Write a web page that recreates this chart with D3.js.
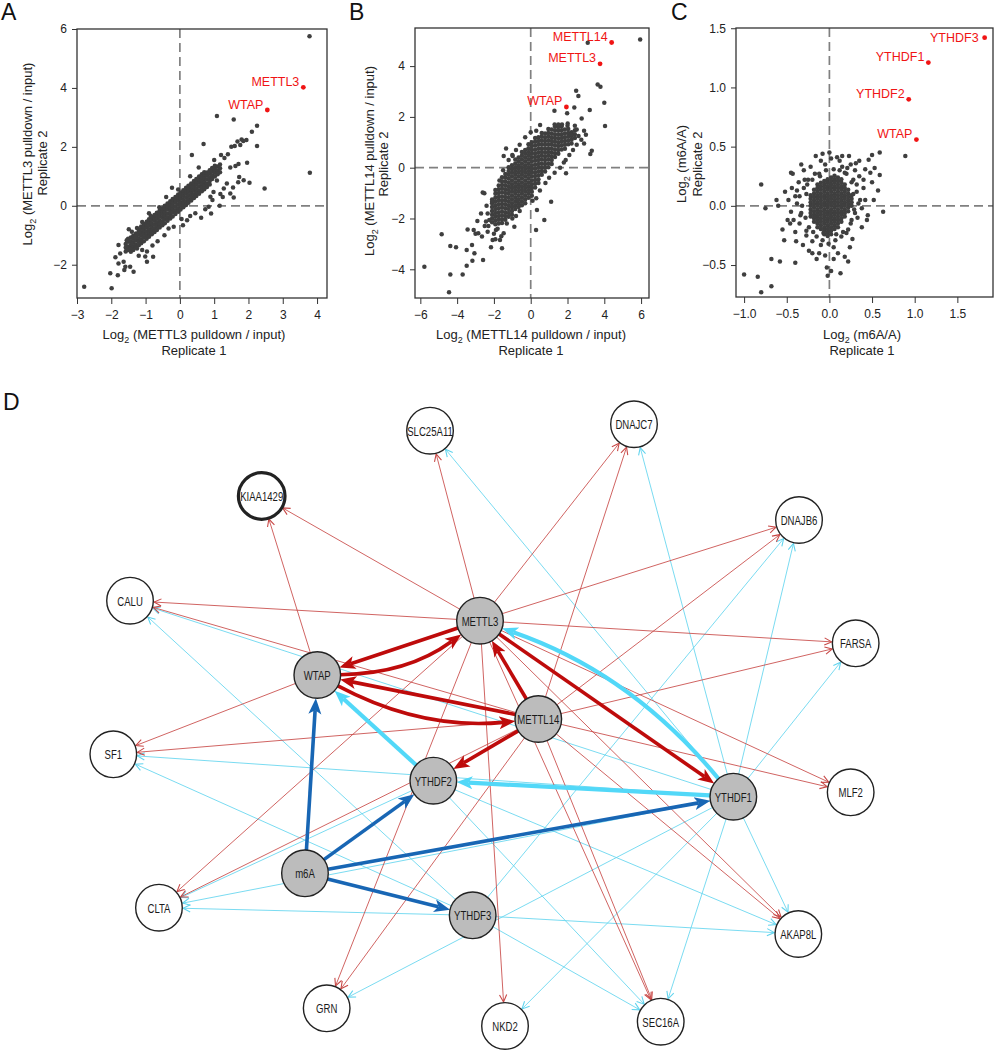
<!DOCTYPE html>
<html><head><meta charset="utf-8">
<script src="https://cdn.jsdelivr.net/npm/d3@7"></script>
<style>
body{margin:0;background:#fff}
svg{display:block}
text{font-family:"Liberation Sans",Arial,Helvetica,sans-serif}
</style></head>
<body><svg id="chart" width="994" height="1050"></svg>
<script>
// ---------------- DATA ----------------
// Panel A: METTL3 pulldown replicate 1 vs 2
const aTicksX = [-3,-2,-1,0,1,2,3,4];
const aTicksY = [-2,0,2,4,6];
const aHighlights = [{name:"METTL3",x:3.60,y:4.02},{name:"WTAP",x:2.55,y:3.25}];
const aOutliers = [
[3.78,5.75],[3.79,1.12],[1.08,3.05],[1.57,2.93],[2.25,2.72],[2.10,2.51],[2.25,2.03],[2.47,0.59],
[1.94,2.23],[1.85,2.20],[1.76,2.06],[1.68,2.18],[1.60,2.03],[1.50,2.00],[1.80,2.25],[0.69,2.10],[0.35,1.72],
[1.96,1.46],[1.71,1.42],[1.62,1.35],[1.47,1.30],[1.73,0.98],[1.86,0.87],[2.03,0.78],[1.57,0.28],[1.47,0.42],
[1.37,0.76],[1.28,0.59],[1.08,0.86],[1.18,0.40],[0.98,0.47],[0.89,0.31],[1.16,0.00],[0.91,-0.26],[0.62,-0.41],
[0.84,-0.03],[0.74,-0.12],[-0.23,0.61],[0.21,-0.49],[0.09,-0.66],[-0.33,-0.77],[-0.18,-0.71],
[-1.49,-0.80],[-1.40,-0.88],[-1.30,-1.05],[-1.55,-1.17],[-1.40,-1.28],[-1.25,-1.45],[-1.10,-1.50],[-0.96,-1.55],[-1.01,-1.72],
[-0.78,-1.73],[-0.96,-1.90],[-1.79,-1.33],[-1.74,-1.62],[-1.88,-1.75],[-1.79,-1.96],[-1.64,-1.90],[-1.59,-2.07],[-1.62,-2.18],
[-1.45,-2.07],[-1.35,-2.24],[-2.03,-2.29],[-1.81,-2.36],[-2.79,-2.75],[-1.99,-2.80],
[1.30,1.62],[1.40,1.75],[1.20,1.72],[1.00,1.55],[0.55,1.30],[0.30,1.00],[-0.05,0.55],[-0.40,0.30],[-0.60,-0.05],[-0.85,-0.35],
[0.45,-0.25],[0.30,-0.35],[0.05,-0.45],[-0.45,-1.00],[-0.65,-1.20],[-0.80,-1.35],[-1.20,-1.70],[-1.55,-1.50],
[-0.90,-0.25],[-1.10,-0.55],[-1.25,-0.75],[1.55,0.62],[1.70,0.80],[1.25,0.30],[0.95,0.20]
];
// dense core of panel A: [x, [y values]]
const aCore = [
[-1.58,[-1.42,-1.30,-1.55]],
[-1.51,[-1.38,-1.22,-1.50,-1.12]],
[-1.43,[-1.33,-1.20,-1.46,-1.08,-1.56]],
[-1.36,[-1.25,-1.12,-1.38,-1.02,-1.50]],
[-1.28,[-1.18,-1.05,-1.31,-0.94,-1.42]],
[-1.20,[-1.10,-0.97,-1.22,-0.86,-1.34]],
[-1.13,[-1.02,-0.90,-1.15,-0.78,-1.27,-0.70]],
[-1.05,[-0.95,-0.82,-1.07,-0.70,-1.20,-0.62]],
[-0.97,[-0.87,-0.74,-1.00,-0.63,-1.12,-0.54]],
[-0.90,[-0.80,-0.67,-0.92,-0.55,-1.05,-0.46]],
[-0.82,[-0.72,-0.59,-0.85,-0.47,-0.97,-0.38]],
[-0.74,[-0.64,-0.51,-0.77,-0.40,-0.89,-0.31]],
[-0.67,[-0.57,-0.44,-0.69,-0.32,-0.82,-0.24]],
[-0.59,[-0.49,-0.36,-0.62,-0.25,-0.74,-0.16]],
[-0.51,[-0.41,-0.28,-0.54,-0.17,-0.66,-0.08]],
[-0.44,[-0.34,-0.21,-0.46,-0.09,-0.59,0.00]],
[-0.36,[-0.26,-0.13,-0.39,-0.02,-0.51,0.08]],
[-0.28,[-0.18,-0.05,-0.31,0.06,-0.43,0.15]],
[-0.21,[-0.11,0.02,-0.23,0.13,-0.36,0.23]],
[-0.13,[-0.03,0.10,-0.16,0.21,-0.28,0.30]],
[-0.05,[0.05,0.18,-0.08,0.29,-0.20,0.38]],
[0.02,[0.12,0.25,0.00,0.36,-0.13,0.45]],
[0.10,[0.20,0.33,0.07,0.44,-0.05,0.53]],
[0.18,[0.28,0.41,0.15,0.52,0.03,0.61]],
[0.25,[0.35,0.48,0.22,0.59,0.10,0.68]],
[0.33,[0.43,0.56,0.30,0.67,0.18,0.76]],
[0.41,[0.51,0.64,0.38,0.75,0.26,0.84]],
[0.48,[0.58,0.71,0.45,0.82,0.33,0.91]],
[0.56,[0.66,0.79,0.53,0.90,0.41,0.99]],
[0.64,[0.74,0.87,0.61,0.98,0.49,1.07]],
[0.71,[0.81,0.94,0.68,1.05,0.56,1.14]],
[0.79,[0.89,1.02,0.76,1.13,0.64]],
[0.87,[0.97,1.10,0.84,1.21,0.72]],
[0.94,[1.04,1.17,0.91,1.28]],
[1.02,[1.12,1.25,0.99,1.36]],
[1.10,[1.20,1.33,1.07]],
[1.17,[1.27,1.40,1.14]]
];

// Panel B: METTL14 pulldown
const bTicksX = [-6,-4,-2,0,2,4,6];
const bTicksY = [-4,-2,0,2,4];
const bHighlights = [{name:"METTL14",x:4.40,y:4.93},{name:"METTL3",x:3.77,y:4.09},{name:"WTAP",x:1.94,y:2.39}];
const bOutliers = [
[5.95,5.05],[3.10,4.92],[3.64,3.28],[3.79,3.19],[2.47,3.03],[2.59,2.82],[4.00,2.56],[4.04,1.64],[3.21,2.27],
[2.37,2.37],[1.29,2.24],[1.98,2.14],[2.77,1.94],[2.01,1.74],[0.51,1.68],[3.32,0.67],[3.24,0.54],[1.92,-0.22],
[1.11,-1.34],[0.34,-1.67],[0.74,-2.06],[0.29,-2.45],[-0.89,-2.32],[-1.34,0.76],[-0.98,0.46],[-1.47,0.46],
[-2.10,-1.34],[-2.52,-1.01],[-2.61,-0.98],[-4.84,-2.62],[-4.37,-3.08],[-4.06,-3.13],[-3.43,-2.43],[-3.10,-2.45],
[-2.85,-2.58],[-2.65,-2.71],[-3.19,-3.04],[-3.48,-3.24],[-3.06,-3.37],[-2.59,-3.63],[-3.48,-3.86],[-3.17,-3.66],
[-3.70,-4.20],[-4.37,-4.20],[-5.78,-3.90],[-4.44,-4.90],[-2.16,-3.13],[-1.92,-2.82],[-1.56,-3.17],[-1.67,-2.85],
[-2.07,-2.85],[-2.34,-2.52],[-2.43,-2.12],[-2.25,-2.06],[-2.34,-1.80],[-1.89,-2.45],[-1.47,-2.58],[-0.71,-1.27],
[2.20,1.30],[2.50,1.50],[2.60,1.25],[2.75,1.10],[2.90,0.95],[2.50,0.90],[2.30,0.70],[2.10,0.50],[1.90,0.30],
[2.90,1.45],[3.00,1.30],[2.40,1.65],[2.00,1.65],[1.70,1.70],[1.50,1.70],[1.30,1.70],
[-2.30,-2.30],[-2.00,-2.60],[-1.80,-2.40],[-1.60,-2.70],[-1.30,-2.20],[-1.00,-2.00],[-0.80,-1.90],[-0.60,-1.70],
[-2.40,-1.50],[-2.70,-1.80],[-2.90,-2.10],[-2.50,-2.30],[-3.00,-2.60],
[-1.50,-0.10],[-1.20,0.30],[-1.70,-0.50],[-1.00,0.50],[-0.60,0.90],[-0.30,1.20],[0.00,1.40],[0.30,1.45],[-0.80,0.70],
[0.80,-0.60],[1.00,-0.40],[1.30,-0.20],[1.60,0.00],[1.80,0.20],[0.50,-0.90],[0.30,-1.20],[0.10,-1.30]
];
const bCore = [
[-2.10,[-1.25,-1.40,-1.55,-1.70,-1.85,-2.00,-2.15]],
[-1.92,[-0.88,-1.03,-1.18,-1.33,-1.48,-1.63,-1.78,-1.93,-2.08,-2.23]],
[-1.74,[-0.70,-0.85,-1.00,-1.15,-1.30,-1.45,-1.60,-1.75,-1.90,-2.05,-2.20]],
[-1.56,[-0.38,-0.53,-0.68,-0.83,-0.98,-1.13,-1.28,-1.43,-1.58,-1.73,-1.88,-2.03,-2.18]],
[-1.38,[-0.25,-0.40,-0.55,-0.70,-0.85,-1.00,-1.15,-1.30,-1.45,-1.60,-1.75,-1.90,-2.05]],
[-1.20,[0.02,-0.13,-0.28,-0.43,-0.58,-0.73,-0.88,-1.03,-1.18,-1.33,-1.48,-1.63,-1.78,-1.93]],
[-1.02,[0.10,-0.05,-0.20,-0.35,-0.50,-0.65,-0.80,-0.95,-1.10,-1.25,-1.40,-1.55,-1.70,-1.85]],
[-0.84,[0.32,0.17,0.02,-0.13,-0.28,-0.43,-0.58,-0.73,-0.88,-1.03,-1.18,-1.33,-1.48,-1.63]],
[-0.66,[0.40,0.25,0.10,-0.05,-0.20,-0.35,-0.50,-0.65,-0.80,-0.95,-1.10,-1.25,-1.40,-1.55]],
[-0.48,[0.62,0.47,0.32,0.17,0.02,-0.13,-0.28,-0.43,-0.58,-0.73,-0.88,-1.03,-1.18,-1.33,-1.48]],
[-0.30,[0.70,0.55,0.40,0.25,0.10,-0.05,-0.20,-0.35,-0.50,-0.65,-0.80,-0.95,-1.10,-1.25,-1.40]],
[-0.12,[0.92,0.77,0.62,0.47,0.32,0.17,0.02,-0.13,-0.28,-0.43,-0.58,-0.73,-0.88,-1.03,-1.18]],
[0.06,[1.00,0.85,0.70,0.55,0.40,0.25,0.10,-0.05,-0.20,-0.35,-0.50,-0.65,-0.80,-0.95,-1.10]],
[0.24,[1.17,1.02,0.87,0.72,0.57,0.42,0.27,0.12,-0.03,-0.18,-0.33,-0.48,-0.63,-0.78]],
[0.42,[1.20,1.05,0.90,0.75,0.60,0.45,0.30,0.15,0.00,-0.15,-0.30,-0.45,-0.60]],
[0.60,[1.37,1.22,1.07,0.92,0.77,0.62,0.47,0.32,0.17,0.02,-0.13,-0.28]],
[0.78,[1.35,1.20,1.05,0.90,0.75,0.60,0.45,0.30,0.15,0.00,-0.15]],
[0.96,[1.52,1.37,1.22,1.07,0.92,0.77,0.62,0.47,0.32,0.17,0.02]],
[1.14,[1.50,1.35,1.20,1.05,0.90,0.75,0.60,0.45,0.30,0.15]],
[1.32,[1.62,1.47,1.32,1.17,1.02,0.87,0.72,0.57,0.42]],
[1.50,[1.60,1.45,1.30,1.15,1.00,0.85,0.70,0.55]],
[1.68,[1.62,1.47,1.32,1.17,1.02,0.87,0.72]],
[1.86,[1.50,1.35,1.20,1.05,0.90,0.75]],
[2.04,[1.52,1.37,1.22,1.07,0.92]],
[2.22,[1.40,1.25,1.10,0.95]],
[2.40,[1.47,1.32,1.17]]
];

// Panel C: m6A/A
const cTicksX = [-1.0,-0.5,0.0,0.5,1.0,1.5];
const cTicksY = [-0.5,0.0,0.5,1.0,1.5];
const cHighlights = [{name:"YTHDF3",x:1.82,y:1.42},{name:"YTHDF1",x:1.16,y:1.21},{name:"YTHDF2",x:0.93,y:0.90},{name:"WTAP",x:1.02,y:0.56}];
const cOutliers = [
[-1.00,-0.58],[-0.84,-0.60],[-0.80,-0.73],[-0.68,-0.68],[-0.68,-0.45],[-0.58,-0.47],[-0.40,-0.48],[-0.53,-0.29],
[-0.80,0.18],[-0.75,-0.02],[-0.43,0.27],[-0.16,0.42],[-0.08,0.44],[0.09,0.41],[0.15,0.42],[0.23,0.42],[0.31,0.36],
[0.50,0.43],[0.59,0.45],[0.46,0.39],[0.53,0.32],[0.59,0.26],[0.42,0.31],[0.50,0.20],[0.57,0.13],[0.63,-0.05],[0.89,0.42],
[0.14,-0.26],[0.18,-0.43],[0.22,-0.47],[0.13,-0.57],[0.02,-0.55],[-0.03,-0.52],[-0.02,-0.59],[-0.12,-0.40],[-0.24,-0.38],
[-0.31,-0.33],[-0.27,-0.21],[-0.42,-0.12],[-0.49,-0.12],[-0.48,0.05],[-0.52,0.12],[-0.38,0.13],[-0.27,0.10],[-0.17,0.27],
[-0.25,0.22],[-0.11,0.25],[0.15,0.33],[0.20,0.27],[0.28,0.22],[0.32,0.12],[0.36,0.05],[0.30,-0.06],[0.26,-0.12],
[0.20,-0.23],[0.07,-0.29],[-0.07,-0.23],[-0.17,-0.09],[-0.33,-0.06],[-0.38,0.02],[-0.62,0.05],
[-0.40,0.08],[-0.35,-0.15],[-0.20,-0.30],[-0.10,-0.33],[0.05,-0.35],[0.35,0.25],[0.40,0.15],[0.25,0.35],[-0.05,0.35],
[-0.30,0.30],[-0.45,-0.05],[0.45,-0.08],[0.38,-0.18],[0.10,-0.40],[-0.15,-0.45],[0.30,0.30],[0.02,0.40],[-0.22,0.33],
[-0.30,0.15],[-0.28,-0.10],[-0.32,0.00],[-0.26,0.18],[-0.24,-0.18],[-0.20,0.22],[-0.19,-0.22],[-0.35,0.08],[-0.34,-0.08],
[-0.29,0.22],[-0.27,-0.25],[0.26,0.20],[0.28,0.10],[0.29,-0.03],[0.25,-0.15],[0.22,-0.20],[0.18,0.28],[0.12,0.30],
[0.05,0.31],[-0.04,0.30],[-0.12,0.27],[0.32,0.18],[0.34,0.02],[0.33,-0.10],[0.21,0.32],[0.16,-0.22],[0.08,-0.24],
[-0.01,-0.32],[-0.08,-0.29],[-0.15,-0.26],[-0.36,0.20],[-0.40,-0.22],[-0.44,0.15],[-0.46,-0.15],[0.42,0.05],[0.44,-0.12],
[0.40,0.22],[0.38,-0.02],[-0.39,-0.30],[0.27,-0.28],[0.05,-0.45],[-0.05,-0.42],[0.12,0.38],[-0.10,0.38],[-0.33,0.35],
[0.48,0.28],[0.52,0.05],[-0.55,-0.20],[-0.60,0.00],[-0.45,0.28],[0.24,-0.35],[0.35,0.38],[-0.20,-0.40],[0.00,0.45]
];
const cCore = [
[-0.22,[0.09,0.06,0.03,0.00,-0.03,-0.06,-0.09]],
[-0.18,[0.135,0.105,0.075,0.045,0.015,-0.015,-0.045,-0.075,-0.105,-0.135]],
[-0.14,[0.18,0.15,0.12,0.09,0.06,0.03,0.00,-0.03,-0.06,-0.09,-0.12,-0.15,-0.18]],
[-0.10,[0.195,0.165,0.135,0.105,0.075,0.045,0.015,-0.015,-0.045,-0.075,-0.105,-0.135,-0.165,-0.195]],
[-0.06,[0.21,0.18,0.15,0.12,0.09,0.06,0.03,0.00,-0.03,-0.06,-0.09,-0.12,-0.15,-0.18,-0.21,-0.24]],
[-0.02,[0.225,0.195,0.165,0.135,0.105,0.075,0.045,0.015,-0.015,-0.045,-0.075,-0.105,-0.135,-0.165,-0.195,-0.225,-0.255]],
[0.02,[0.24,0.21,0.18,0.15,0.12,0.09,0.06,0.03,0.00,-0.03,-0.06,-0.09,-0.12,-0.15,-0.18,-0.21,-0.24]],
[0.06,[0.255,0.225,0.195,0.165,0.135,0.105,0.075,0.045,0.015,-0.015,-0.045,-0.075,-0.105,-0.135,-0.165,-0.195]],
[0.10,[0.24,0.21,0.18,0.15,0.12,0.09,0.06,0.03,0.00,-0.03,-0.06,-0.09,-0.12,-0.15,-0.18]],
[0.14,[0.225,0.195,0.165,0.135,0.105,0.075,0.045,0.015,-0.015,-0.045,-0.075,-0.105,-0.135]],
[0.18,[0.18,0.15,0.12,0.09,0.06,0.03,0.00,-0.03,-0.06,-0.09]],
[0.22,[0.135,0.105,0.075,0.045,0.015,-0.015,-0.045]],
[0.26,[0.09,0.06,0.03,0.00]]
];

// Panel D: network
const netNodes   = ["METTL3","METTL14","WTAP","YTHDF1","YTHDF2","YTHDF3","m6A","KIAA1429","SLC25A11","DNAJC7","DNAJB6","CALU","FARSA","SF1","MLF2","CLTA","AKAP8L","GRN","NKD2","SEC16A"];
const netLayoutX = [4.935,5.692,2.822,8.225,4.329,4.840,2.662,2.100,4.286,6.935,9.078,0.390,9.814,0.173,9.749,0.766,9.069,2.944,5.260,7.282];
const netLayoutY = [3.290,4.902,4.180,6.175,5.913,8.120,7.431,1.246,0.175,0.070,1.639,2.962,3.661,5.480,6.103,7.995,8.426,9.644,9.934,9.864];
const netCoreNodes = ["METTL3","METTL14","WTAP","YTHDF1","YTHDF2","YTHDF3","m6A"];
const netBoldNodes = ["KIAA1429"];
const thinRedEdges = [
["METTL3","KIAA1429"],["WTAP","KIAA1429"],["METTL3","SLC25A11"],["METTL3","DNAJC7"],["METTL14","DNAJC7"],
["METTL3","DNAJB6"],["METTL14","DNAJB6"],["METTL3","FARSA"],["METTL14","FARSA"],["METTL3","CALU"],["METTL14","CALU"],
["WTAP","SF1"],["METTL14","SF1"],["METTL3","MLF2"],["METTL14","MLF2"],["METTL3","CLTA"],["METTL14","CLTA"],
["METTL3","GRN"],["METTL14","GRN"],["METTL3","NKD2"],["METTL3","SEC16A"],["METTL14","SEC16A"],["METTL3","AKAP8L"],["METTL14","AKAP8L"]
];
const thinCyanEdges = [
["YTHDF1","SLC25A11"],["YTHDF1","DNAJC7"],["YTHDF1","DNAJB6"],["YTHDF3","DNAJB6"],["YTHDF1","FARSA"],
["YTHDF1","CALU"],["YTHDF3","CALU"],["YTHDF1","SF1"],["YTHDF3","SF1"],["YTHDF2","CLTA"],["YTHDF1","CLTA"],["YTHDF3","CLTA"],
["YTHDF1","GRN"],["YTHDF1","NKD2"],["YTHDF1","SEC16A"],["YTHDF2","SEC16A"],["YTHDF3","SEC16A"],
["YTHDF1","AKAP8L"],["YTHDF2","AKAP8L"],["YTHDF3","AKAP8L"]
];
// [source, target, curvature]
const thickRedEdges = [
["METTL3","WTAP",0],["WTAP","METTL3",0.16],["METTL14","WTAP",0],["WTAP","METTL14",0.15],
["METTL14","METTL3",0],["METTL14","YTHDF2",0],["METTL3","YTHDF1",0]
];
const thickCyanEdges = [["YTHDF1","METTL3",0.14],["YTHDF2","WTAP",0],["YTHDF1","YTHDF2",0]];
const thickBlueEdges = [["m6A","WTAP",0],["m6A","YTHDF2",0],["m6A","YTHDF1",0],["m6A","YTHDF3",0]];

// ---------------- DRAWING ----------------
const svg = d3.select("#chart");
const FONT = '"Liberation Sans",Arial,Helvetica,sans-serif';

const panels = [
 {letter:"A", lx:1, box:{l:77,r:327,t:29,b:298}, xdom:[-3.0,4.29], ydom:[-3.13,6.0],
  xticks:aTicksX, yticks:aTicksY, fmt:d3.format("d"), outliers:aOutliers, core:aCore, hi:aHighlights,
  xtitle:"(METTL3 pulldown / input)", ytitle:"(METTL3 pulldown / input)",
  xtc:194, ytx1:31.5, yty1:154, ytx2:46.5, yty2:163},
 {letter:"B", lx:349, box:{l:415,r:649,t:28,b:298}, xdom:[-6.29,6.43], ydom:[-5.13,5.5],
  xticks:bTicksX, yticks:bTicksY, fmt:d3.format("d"), outliers:bOutliers, core:bCore, hi:bHighlights,
  xtitle:"(METTL14 pulldown / input)", ytitle:"(METTL14 pulldown / input)",
  xtc:531, ytx1:373.5, yty1:161, ytx2:387.5, yty2:164},
 {letter:"C", lx:671, box:{l:736,r:993,t:28,b:297}, xdom:[-1.095,1.918], ydom:[-0.77,1.502],
  xticks:cTicksX, yticks:cTicksY, fmt:d3.format(".1f"), outliers:cOutliers, core:cCore, hi:cHighlights,
  xtitle:"(m6A/A)", ytitle:"(m6A/A)",
  xtc:862, ytx1:685.5, yty1:164, ytx2:702, yty2:164}
];
const labelOffsets = {"C:YTHDF3":{dx:-6,dy:4.5}};

function logText(sel, rest){
  sel.append("tspan").text("Log");
  sel.append("tspan").attr("font-size",9).attr("dy",4).text("2");
  sel.append("tspan").attr("dy",-4).text(" " + rest);
}

panels.forEach(p=>{
  const g = svg.append("g");
  const x = d3.scaleLinear().domain(p.xdom).range([p.box.l,p.box.r]);
  const y = d3.scaleLinear().domain(p.ydom).range([p.box.b,p.box.t]);
  g.append("line").attr("x1",x(0)).attr("x2",x(0)).attr("y1",p.box.t).attr("y2",p.box.b)
    .attr("stroke","#808080").attr("stroke-width",1.7).attr("stroke-dasharray","9,5");
  g.append("line").attr("y1",y(0)).attr("y2",y(0)).attr("x1",p.box.l).attr("x2",p.box.r)
    .attr("stroke","#808080").attr("stroke-width",1.7).attr("stroke-dasharray","9,5");
  const pts = p.core.flatMap(([cx,ys])=>ys.map(v=>[cx,v])).concat(p.outliers);
  g.append("g").selectAll("circle").data(pts).join("circle")
    .attr("cx",d=>x(d[0])).attr("cy",d=>y(d[1])).attr("r",2.25).attr("fill","#3f3f3f");
  g.append("g").selectAll("circle").data(p.hi).join("circle")
    .attr("cx",d=>x(d.x)).attr("cy",d=>y(d.y)).attr("r",2.4).attr("fill","#f01414");
  g.append("g").selectAll("text").data(p.hi).join("text")
    .attr("x",d=>x(d.x)+((labelOffsets[p.letter+":"+d.name]||{dx:-4}).dx))
    .attr("y",d=>y(d.y)+((labelOffsets[p.letter+":"+d.name]||{dy:-1.5}).dy))
    .attr("text-anchor","end").attr("font-size",12.5).attr("fill","#f01414").text(d=>d.name);
  const ax = g.append("g").attr("transform",`translate(0,${p.box.b})`)
    .call(d3.axisBottom(x).tickValues(p.xticks).tickSize(6).tickPadding(6).tickFormat(p.fmt));
  const ay = g.append("g").attr("transform",`translate(${p.box.l},0)`)
    .call(d3.axisLeft(y).tickValues(p.yticks).tickSize(5).tickPadding(5).tickFormat(p.fmt));
  [ax,ay].forEach(a=>{
    a.select(".domain").remove();
    a.attr("font-family",FONT).attr("font-size",12);
    a.selectAll("line").attr("stroke","#333");
    a.selectAll("text").attr("fill","#222");
  });
  g.append("rect").attr("x",p.box.l).attr("y",p.box.t).attr("width",p.box.r-p.box.l).attr("height",p.box.b-p.box.t)
    .attr("fill","none").attr("stroke","#333").attr("stroke-width",1.3);
  const xt1 = g.append("text").attr("x",p.xtc).attr("y",339).attr("text-anchor","middle").attr("font-size",13).attr("fill","#222");
  logText(xt1, p.xtitle);
  g.append("text").attr("x",p.xtc).attr("y",355).attr("text-anchor","middle").attr("font-size",13).attr("fill","#222").text("Replicate 1");
  const yt1 = g.append("text").attr("transform",`translate(${p.ytx1},${p.yty1}) rotate(-90)`).attr("text-anchor","middle").attr("font-size",13).attr("fill","#222");
  logText(yt1, p.ytitle);
  g.append("text").attr("transform",`translate(${p.ytx2},${p.yty2}) rotate(-90)`).attr("text-anchor","middle").attr("font-size",13).attr("fill","#222").text("Replicate 2");
  svg.append("text").attr("x",p.lx).attr("y",20).attr("font-size",23).attr("fill","#111").text(p.letter);
});

// ---- Panel D ----
svg.append("text").attr("x",3).attr("y",410).attr("font-size",23).attr("fill","#111").text("D");
const nx = d3.scaleLinear().domain([0,10]).range([100,870]);
const ny = d3.scaleLinear().domain([0,10]).range([420,1030]);
const R = 23.3;
const nodeMap = {};
netNodes.forEach((n,i)=>{ nodeMap[n] = {name:n, x:nx(netLayoutX[i]), y:ny(netLayoutY[i]),
  core:netCoreNodes.includes(n), bold:netBoldNodes.includes(n)}; });

const defs = svg.append("defs");
function thinMarker(id,color){
  defs.append("marker").attr("id",id).attr("markerUnits","userSpaceOnUse").attr("markerWidth",12).attr("markerHeight",12)
    .attr("viewBox","-1 -5 10 10").attr("refX",6).attr("refY",0).attr("orient","auto")
    .append("path").attr("d","M0,-3 L6,0 L0,3").attr("fill","none").attr("stroke",color).attr("stroke-width",0.9);
}
function thickMarker(id,color){
  defs.append("marker").attr("id",id).attr("markerUnits","userSpaceOnUse").attr("markerWidth",20).attr("markerHeight",20)
    .attr("viewBox","0 -10 20 20").attr("refX",4).attr("refY",0).attr("orient","auto")
    .append("path").attr("d","M0,-6.5 L16,0 L0,6.5 L4,0 Z").attr("fill",color);
}
const COL = {thinRed:"#c84846", thinCyan:"#62d4ee", R:"#be0b0b", C:"#52d8f8", B:"#1866b4"};
thinMarker("mr",COL.thinRed); thinMarker("mc",COL.thinCyan);
thickMarker("MR",COL.R); thickMarker("MC",COL.C); thickMarker("MB",COL.B);

const edgeG = svg.append("g");
function thinEdges(list,color,marker){
  edgeG.append("g").selectAll("path").data(list).join("path")
    .attr("d",([s,t])=>{
      const a=nodeMap[s], b=nodeMap[t];
      const dx=b.x-a.x, dy=b.y-a.y, L=Math.hypot(dx,dy);
      const ex=b.x-dx/L*(R+0.8), ey=b.y-dy/L*(R+0.8);
      return `M${a.x},${a.y}L${ex},${ey}`;
    })
    .attr("fill","none").attr("stroke",color).attr("stroke-width",0.85).attr("marker-end",`url(#${marker})`);
}
thinEdges(thinCyanEdges,COL.thinCyan,"mc");
thinEdges(thinRedEdges,COL.thinRed,"mr");

function thickEdges(list,color,marker,width){
  edgeG.append("g").selectAll("path").data(list).join("path")
    .attr("d",([s,t,k])=>{
      const a=nodeMap[s], b=nodeMap[t];
      const dx=b.x-a.x, dy=b.y-a.y, L=Math.hypot(dx,dy);
      const cx=(a.x+b.x)/2 + (-dy/L)*k*L, cy=(a.y+b.y)/2 + (dx/L)*k*L;
      const ux1=cx-a.x, uy1=cy-a.y, l1=Math.hypot(ux1,uy1);
      const sx=a.x+ux1/l1*R, sy=a.y+uy1/l1*R;
      const ux2=cx-b.x, uy2=cy-b.y, l2=Math.hypot(ux2,uy2);
      const ex=b.x+ux2/l2*(R+12), ey=b.y+uy2/l2*(R+12);
      if(k===0) return `M${sx},${sy}L${ex},${ey}`;
      return `M${sx},${sy}Q${cx},${cy} ${ex},${ey}`;
    })
    .attr("fill","none").attr("stroke",color).attr("stroke-width",width).attr("marker-end",`url(#${marker})`);
}
thickEdges(thickBlueEdges,COL.B,"MB",3.6);
thickEdges(thickCyanEdges,COL.C,"MC",4.2);
thickEdges(thickRedEdges,COL.R,"MR",3.6);

const nodeG = svg.append("g");
const nodes = Object.values(nodeMap);
nodeG.selectAll("circle").data(nodes).join("circle")
  .attr("cx",d=>d.x).attr("cy",d=>d.y).attr("r",R)
  .attr("fill",d=>d.core?"#bcbcbc":"#ffffff")
  .attr("stroke","#222").attr("stroke-width",d=>d.bold?3.2:1.4);
nodeG.selectAll("text").data(nodes).join("text")
  .attr("transform",d=>`translate(${d.x},${d.y}) scale(0.71,1)`)
  .attr("text-anchor","middle").attr("dy","0.36em").attr("font-size",13.5).attr("fill","#1a1a1a")
  .text(d=>d.name);
</script>
</body></html>
